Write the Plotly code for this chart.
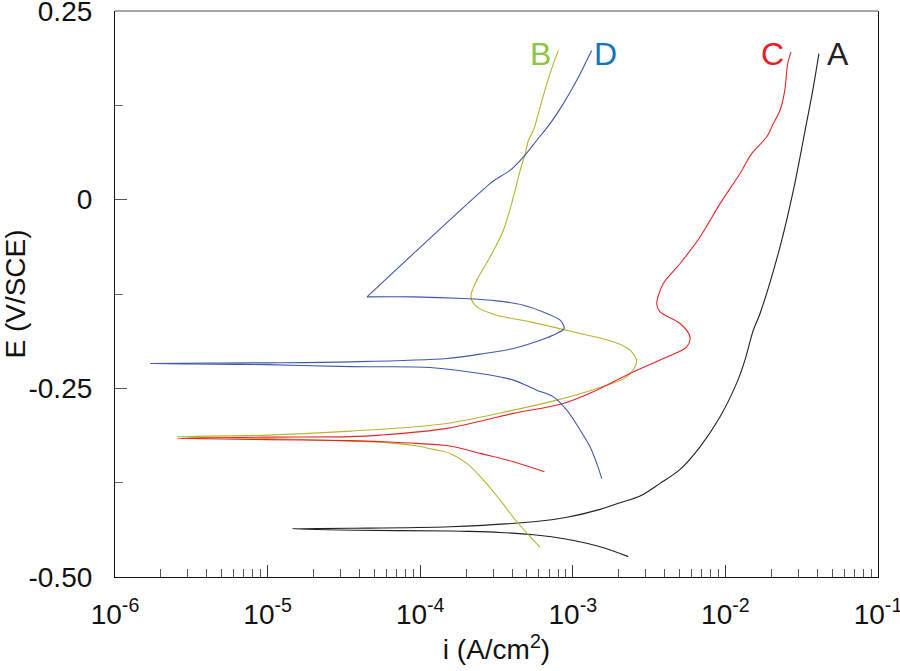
import math
import plotly.graph_objects as go

# curve A (black): cathodic end -> Ecorr -> anodic end
i_A = [2.31e-3, 1.51e-3, 9.14e-4, 5.52e-4, 3.34e-4, 2.02e-4, 1.58e-4, 3.75e-5, 1.45e-5,
       3.48e-5, 1.57e-4, 5.52e-4, 9.14e-4, 1.51e-3, 2.04e-3, 2.76e-3, 3.73e-3, 5.05e-3, 6.82e-3,
       9.23e-3, 1.208e-2, 1.343e-2, 1.524e-2, 1.687e-2, 2.28e-2, 2.79e-2, 3.33e-2, 3.77e-2, 4.10e-2]
E_A = [-0.473, -0.460, -0.450, -0.444, -0.441, -0.4395, -0.439, -0.438, -0.436,
       -0.4355, -0.4334, -0.4268, -0.4209, -0.4104, -0.4016, -0.3927, -0.3759, -0.3574, -0.3275,
       -0.2877, -0.2391, -0.2127, -0.1729, -0.1508, -0.0626, 0.0125, 0.0919, 0.1492, 0.1935]

# curve B (olive)
i_B = [6.11e-4, 5.25e-4, 4.30e-4, 3.34e-4, 2.60e-4, 2.02e-4, 1.57e-4, 1.22e-4, 9.51e-5, 5.75e-5,
       3.48e-5, 9.91e-6, 2.55e-6,
       9.91e-6, 3.48e-5, 1.50e-4, 4.08e-4, 7.85e-4, 1.435e-3, 2.26e-3, 2.62e-3, 2.37e-3, 1.845e-3,
       1.117e-3, 5.25e-4, 3.18e-4, 2.35e-4, 2.15e-4, 2.35e-4, 2.87e-4, 3.51e-4, 4.08e-4, 4.52e-4,
       4.88e-4, 5.12e-4, 5.52e-4, 6.11e-4, 6.76e-4, 7.46e-4, 8.05e-4]
E_B = [-0.4607, -0.4466, -0.4268, -0.3981, -0.3716, -0.3494, -0.3362, -0.3309, -0.3265, -0.3216,
       -0.3199, -0.3166, -0.3142,
       -0.3120, -0.3067, -0.2965, -0.2789, -0.2656, -0.2501, -0.2348, -0.2149, -0.1994, -0.1884,
       -0.1773, -0.1619, -0.1531, -0.1421, -0.1288, -0.1067, -0.0759, -0.0405, 0.0036, 0.0389,
       0.0610, 0.0787, 0.0919, 0.1228, 0.1537, 0.1802, 0.1978]

# curve C (red)
i_C = [6.52e-4, 4.08e-4, 2.47e-4, 1.57e-4, 9.51e-5, 5.75e-5, 3.48e-5, 9.91e-6, 2.55e-6,
       9.91e-6, 3.48e-5, 5.47e-5, 1.50e-4, 4.08e-4, 8.67e-4, 1.435e-3, 2.37e-3, 3.92e-3, 5.58e-3,
       5.86e-3, 5.05e-3, 3.73e-3, 3.55e-3, 3.92e-3, 5.05e-3, 6.82e-3, 9.23e-3, 1.247e-2, 1.486e-2,
       1.862e-2, 2.06e-2, 2.28e-2, 2.45e-2, 2.56e-2, 2.69e-2]
E_C = [-0.3606, -0.3473, -0.3362, -0.3265, -0.3230, -0.3208, -0.3193, -0.3179, -0.3163,
       -0.3146, -0.3140, -0.3120, -0.3031, -0.2832, -0.2700, -0.2524, -0.2303, -0.2104, -0.1950,
       -0.1818, -0.1641, -0.1487, -0.1385, -0.1111, -0.0846, -0.0494, -0.0052, 0.0346, 0.0610,
       0.0830, 0.1008, 0.1184, 0.1449, 0.1802, 0.1956]

# curve D (blue): lower part up to the sharp corner, then the straight rise
i_D = [1.549e-3, 1.435e-3, 1.297e-3, 1.117e-3, 9.14e-4, 7.46e-4, 5.81e-4, 4.08e-4, 2.47e-4,
       1.16e-4, 3.48e-5, 9.91e-6, 1.71e-6,
       9.91e-6, 3.48e-5, 1.50e-4, 2.47e-4, 4.08e-4, 6.11e-4, 7.85e-4, 8.77e-4, 8.26e-4, 6.76e-4,
       4.74e-4, 3.18e-4, 1.92e-4, 9.04e-5, 4.48e-5]
E_D = [-0.3696, -0.3494, -0.3275, -0.3053, -0.2789, -0.2613, -0.2524, -0.2391, -0.2303,
       -0.2223, -0.2213, -0.2186, -0.2170,
       -0.2162, -0.2149, -0.2104, -0.2047, -0.1972, -0.1862, -0.1773, -0.1707, -0.1597, -0.1508,
       -0.1398, -0.1341, -0.1310, -0.1288, -0.1288]
i_D2 = [4.48e-5, 2.87e-4, 3.18e-4, 3.88e-4, 4.74e-4, 5.81e-4,
        7.10e-4, 8.67e-4, 1.062e-3, 1.236e-3, 1.330e-3]
E_D2 = [-0.1288, 0.0213, 0.0279, 0.0389, 0.0565, 0.0787,
        0.1008, 0.1273, 0.1581, 0.1846, 0.1978]

names = ["A", "B", "C", "D"]
line_colors = ["#231f20", "#b5b52e", "#e8242a", "#3f58a8"]
label_colors = ["#231f20", "#8dc63f", "#ed1c24", "#0f75bc"]
label_i = [5.45e-2, 6.1e-4, 2.05e-2, 1.63e-3]
label_E = [0.193, 0.193, 0.193, 0.193]

x_tickvals = [1e-6, 1e-5, 1e-4, 1e-3, 1e-2, 1e-1]
x_ticktext = ["10<sup>-6</sup>", "10<sup>-5</sup>", "10<sup>-4</sup>",
              "10<sup>-3</sup>", "10<sup>-2</sup>", "10<sup>-1</sup>"]
y_tickvals = [0.25, 0, -0.25, -0.5]
y_ticktext = ["0.25", "0", "-0.25", "-0.50"]

font = "Liberation Sans, Arial, sans-serif"

fig = go.Figure()
for name, xs, ys, col in zip(names, [i_A, i_B, i_C, i_D], [E_A, E_B, E_C, E_D], line_colors):
    fig.add_trace(go.Scatter(x=xs, y=ys, mode="lines", name=name,
                             line=dict(color=col, width=1.1, shape="spline", smoothing=0.9)))
fig.add_trace(go.Scatter(x=i_D2, y=E_D2, mode="lines", name="D",
                         line=dict(color=line_colors[3], width=1.1, shape="spline", smoothing=0.9)))

# annotations on a log axis take log10 positions
for name, xi, ye, col in zip(names, label_i, label_E, label_colors):
    fig.add_annotation(x=math.log10(xi), y=ye, xref="x", yref="y", text=name, showarrow=False,
                       font=dict(family=font, size=32, color=col))

# minor ticks on the log axis (2..9 per decade)
minor_x = [m * 10.0 ** e for e in range(-6, -1) for m in range(2, 10)]

fig.update_xaxes(type="log", range=[-6, -1], automargin=False,
                 tickmode="array", tickvals=x_tickvals, ticktext=x_ticktext,
                 ticks="inside", ticklen=12, tickcolor="#333", tickwidth=1,
                 ticklabelstandoff=12, ticklabeloverflow="allow",
                 minor=dict(tickmode="array", tickvals=minor_x, ticks="inside",
                            ticklen=8, tickcolor="#555", showgrid=False),
                 showline=True, linecolor="#111", linewidth=1.2, mirror=False,
                 showgrid=False, zeroline=False,
                 tickfont=dict(family=font, size=28, color="#111"),
                 title=dict(text="i (A/cm<sup>2</sup>)", standoff=10,
                            font=dict(family=font, size=28, color="#111")))

fig.update_yaxes(range=[-0.5, 0.25], automargin=False,
                 tickmode="array", tickvals=y_tickvals, ticktext=y_ticktext,
                 ticks="inside", ticklen=12, tickcolor="#555", tickwidth=1,
                 ticklabelstandoff=16, ticklabeloverflow="allow",
                 minor=dict(tickmode="array", tickvals=[0.125, -0.125, -0.375], ticks="inside",
                            ticklen=8, tickcolor="#666", showgrid=False),
                 showline=True, linecolor="#111", linewidth=1.2, mirror=True,
                 showgrid=False, zeroline=False,
                 tickfont=dict(family=font, size=28, color="#111"),
                 title=dict(text="E (V/SCE)", standoff=14,
                            font=dict(family=font, size=28, color="#111")))

# top border is a lighter grey
fig.add_shape(type="line", xref="paper", yref="paper", x0=0, x1=1, y0=1, y1=1,
              line=dict(color="#888", width=1.5))

fig.update_layout(width=900, height=671, showlegend=False,
                  paper_bgcolor="white", plot_bgcolor="white",
                  margin=dict(l=115, r=22, t=11, b=94),
                  font=dict(family=font))

# drop the page's default body margin so the figure sits at the window corner
fig.write_html("out.html", config={"displayModeBar": False},
               post_script="document.body.style.margin='0';")
